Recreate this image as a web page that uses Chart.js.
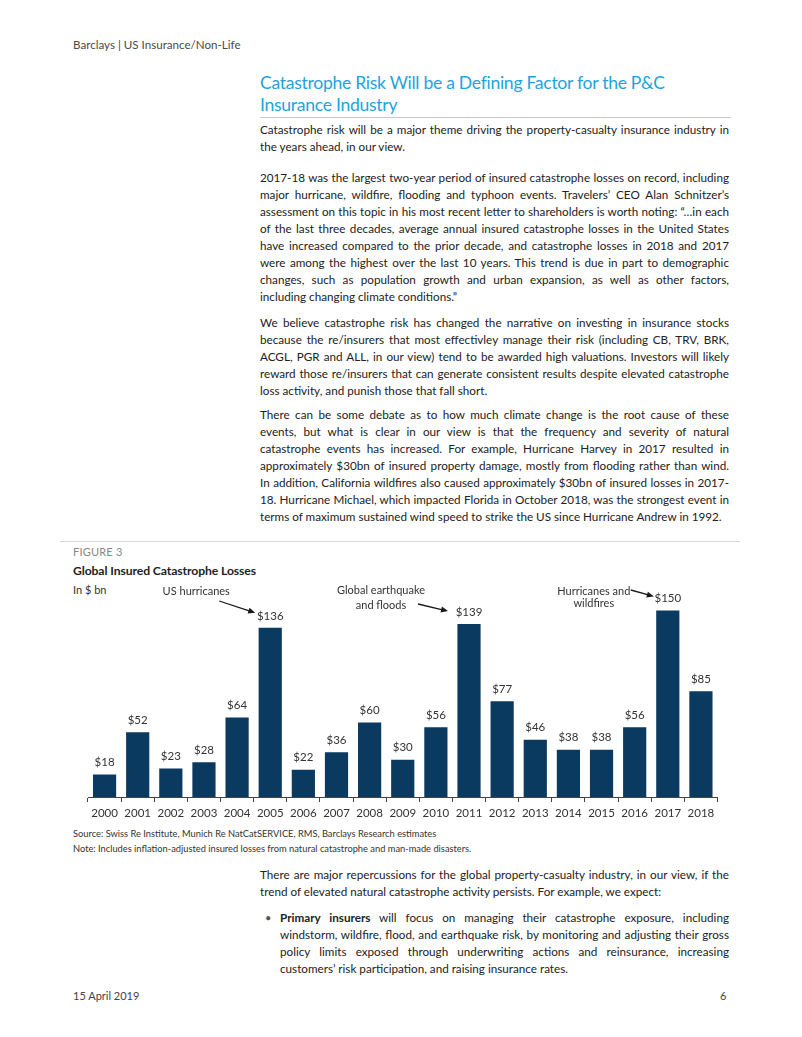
<!DOCTYPE html>
<html>
<head>
<meta charset="utf-8">
<script src="https://cdn.jsdelivr.net/npm/chart.js@4.4.1/dist/chart.umd.min.js"></script>
<style>
  html, body { margin: 0; padding: 0; background: #fff; }
  body { width: 802px; height: 1037px; position: relative; overflow: hidden; font-family: 'Lato', 'Open Sans', sans-serif; color: #222; }
  .abs { position: absolute; }
  .hdr { left: 73px; top: 38px; font-size: 11.6px; color: #4a4a4a; }
  .title { left: 260px; top: 72px; font-size: 17.6px; line-height: 22px; color: #1fa3dc; font-weight: 400; letter-spacing: -0.3px; }
  .rule { background: #c8c8c8; height: 1px; }
  .para { left: 260px; width: 469px; font-size: 11.7px; line-height: 17px; }
  .para div { white-space: nowrap; text-align: justify; text-align-last: justify; }
  .para div.last { text-align-last: left; }
  .fig { left: 73px; font-size: 11px; color: #888; letter-spacing: 0.2px; }
  .figt { left: 73px; font-size: 12.2px; font-weight: 700; color: #222; letter-spacing: -0.1px; }
  .unit { left: 73px; font-size: 11px; color: #333; }
  .src { left: 73px; font-size: 9.3px; line-height: 15px; color: #333; }
  .bullet { left: 265px; font-size: 11px; color: #555; }
  .foot { font-size: 11px; color: #444; }
</style>
</head>
<body>
<div class="abs hdr">Barclays | US Insurance/Non-Life</div>

<div class="abs title">Catastrophe Risk Will be a Defining Factor for the P&amp;C<br>Insurance Industry</div>
<div class="abs rule" style="left:260px; top:117px; width:471px;"></div>

<div class="abs para" style="top:121px;">
  <div>Catastrophe risk will be a major theme driving the property-casualty insurance industry in</div>
  <div class="last">the years ahead, in our view.</div>
</div>

<div class="abs para" style="top:169px;">
  <div>2017-18 was the largest two-year period of insured catastrophe losses on record, including</div>
  <div>major hurricane, wildfire, flooding and typhoon events. Travelers’ CEO Alan Schnitzer’s</div>
  <div>assessment on this topic in his most recent letter to shareholders is worth noting: “…in each</div>
  <div>of the last three decades, average annual insured catastrophe losses in the United States</div>
  <div>have increased compared to the prior decade, and catastrophe losses in 2018 and 2017</div>
  <div>were among the highest over the last 10 years. This trend is due in part to demographic</div>
  <div>changes, such as population growth and urban expansion, as well as other factors,</div>
  <div class="last">including changing climate conditions.”</div>
</div>

<div class="abs para" style="top:314px;">
  <div>We believe catastrophe risk has changed the narrative on investing in insurance stocks</div>
  <div>because the re/insurers that most effectivley manage their risk (including CB, TRV, BRK,</div>
  <div>ACGL, PGR and ALL, in our view) tend to be awarded high valuations. Investors will likely</div>
  <div>reward those re/insurers that can generate consistent results despite elevated catastrophe</div>
  <div class="last">loss activity, and punish those that fall short.</div>
</div>

<div class="abs para" style="top:406px;">
  <div>There can be some debate as to how much climate change is the root cause of these</div>
  <div>events, but what is clear in our view is that the frequency and severity of natural</div>
  <div>catastrophe events has increased. For example, Hurricane Harvey in 2017 resulted in</div>
  <div>approximately $30bn of insured property damage, mostly from flooding rather than wind.</div>
  <div>In addition, California wildfires also caused approximately $30bn of insured losses in 2017-</div>
  <div>18. Hurricane Michael, which impacted Florida in October 2018, was the strongest event in</div>
  <div class="last">terms of maximum sustained wind speed to strike the US since Hurricane Andrew in 1992.</div>
</div>

<div class="abs rule" style="left:60px; top:541px; width:680px; background:#d8d8d8;"></div>
<div class="abs fig" style="top:545px;">FIGURE 3</div>
<div class="abs figt" style="top:563px;">Global Insured Catastrophe Losses</div>
<div class="abs unit" style="top:583px;">In $ bn</div>

<canvas id="lossChart" class="abs" style="left:60px; top:580px;" width="680" height="245"></canvas>

<div class="abs src" style="top:826px;">Source: Swiss Re Institute, Munich Re NatCatSERVICE, RMS, Barclays Research estimates<br>Note: Includes inflation-adjusted insured losses from natural catastrophe and man-made disasters.</div>

<div class="abs para" style="top:866px;">
  <div>There are major repercussions for the global property-casualty industry, in our view, if the</div>
  <div class="last">trend of elevated natural catastrophe activity persists. For example, we expect:</div>
</div>

<div class="abs bullet" style="top:909px; line-height:17px;">•</div>
<div class="abs para" style="top:909px; left:280px; width:449px;">
  <div><b>Primary insurers</b> will focus on managing their catastrophe exposure, including</div>
  <div>windstorm, wildfire, flood, and earthquake risk, by monitoring and adjusting their gross</div>
  <div>policy limits exposed through underwriting actions and reinsurance, increasing</div>
  <div class="last">customers’ risk participation, and raising insurance rates.</div>
</div>

<div class="abs foot" style="left:73px; top:989px;">15 April 2019</div>
<div class="abs foot" style="left:720px; top:989px;">6</div>

<script>
// global insured catastrophe losses, $bn
const years = ["2000", "2001", "2002", "2003", "2004", "2005", "2006", "2007", "2008", "2009",
    "2010", "2011", "2012", "2013", "2014", "2015", "2016", "2017", "2018"];
const losses = [18, 52, 23, 28, 64, 136, 22, 36, 60, 30, 56, 139, 77, 46, 38, 38, 56, 150, 85];

// callouts
const noteYears = ["2005", "2011", "2017"];
const noteTexts = [["US hurricanes"], ["Global earthquake", "and floods"], ["Hurricanes and", "wildfires"]];

const barColor = '#0a3a5f';
const inkColor = '#333';

function drawArrow(ctx, x1, y1, x2, y2) {
    const ang = Math.atan2(y2 - y1, x2 - x1);
    const head = 7;
    ctx.beginPath();
    ctx.moveTo(x1, y1);
    ctx.lineTo(x2 - Math.cos(ang) * head * 0.8, y2 - Math.sin(ang) * head * 0.8);
    ctx.stroke();
    ctx.beginPath();
    ctx.moveTo(x2, y2);
    ctx.lineTo(x2 - head * Math.cos(ang) + 3 * Math.sin(ang), y2 - head * Math.sin(ang) - 3 * Math.cos(ang));
    ctx.lineTo(x2 - head * Math.cos(ang) - 3 * Math.sin(ang), y2 - head * Math.sin(ang) + 3 * Math.cos(ang));
    ctx.closePath();
    ctx.fill();
}

const labelPlugin = {
    id: 'valueLabels',
    afterDatasetsDraw: (chart, args, opts) => {
        const ctx = chart.ctx;
        const meta = chart.getDatasetMeta(0);
        ctx.save();
        ctx.font = '11.5px Lato';
        ctx.fillStyle = inkColor;
        ctx.textAlign = 'center';
        ctx.textBaseline = 'middle';
        meta.data.forEach((bar, i) => {
            ctx.fillText('$' + losses[i], bar.x, bar.y - 12);
        });

        // callout text + arrows, placed relative to the bar they point at
        ctx.font = '11px Lato';
        ctx.strokeStyle = '#1a1a1a';
        ctx.lineWidth = 1.3;
        noteYears.forEach((yr, n) => {
            const bar = meta.data[years.indexOf(yr)];
            const o = opts.offsets[n];
            const labelY = bar.y - 12;
            ctx.fillStyle = inkColor;
            noteTexts[n].forEach((line, k) => {
                ctx.fillText(line, bar.x + o.tx, o.ty + k * o.lh);
            });
            ctx.fillStyle = '#1a1a1a';
            drawArrow(ctx, bar.x + o.ax, o.ay, bar.x + o.bx, labelY + o.by);
        });
        ctx.restore();
    }
};

const lossChart = new Chart(document.getElementById('lossChart'), {
    type: 'bar',
    data: {
        labels: years,
        datasets: [{
            data: losses,
            backgroundColor: barColor,
            borderWidth: 0,
            categoryPercentage: 0.7,
            barPercentage: 1
        }]
    },
    options: {
        responsive: false,
        animation: false,
        layout: { padding: { top: 18, left: 28, right: 22.5, bottom: 0 } },
        plugins: {
            legend: { display: false },
            tooltip: { enabled: false },
            valueLabels: {
                offsets: [
                    { tx: -74, ty: 11, lh: 15, ax: -51, ay: 21, bx: -15, by: -3 },
                    { tx: -88, ty: 10, lh: 15, ax: -51, ay: 24, bx: -21, by: -1 },
                    { tx: -74, ty: 11, lh: 12, ax: -37, ay: 10, bx: -14, by: -2 }
                ]
            }
        },
        scales: {
            x: {
                afterFit: (scale) => { scale.height = 28; },
                grid: { display: true, drawOnChartArea: false, drawTicks: true, tickLength: 5, color: '#444', offset: true },
                border: { display: true, color: '#444', width: 1 },
                ticks: { color: inkColor, font: { family: 'Lato', size: 11.5 }, padding: 4, maxRotation: 0, autoSkip: false }
            },
            y: {
                display: false,
                min: 0,
                max: 160
            }
        }
    },
    plugins: [labelPlugin]
});
</script>
</body>
</html>
